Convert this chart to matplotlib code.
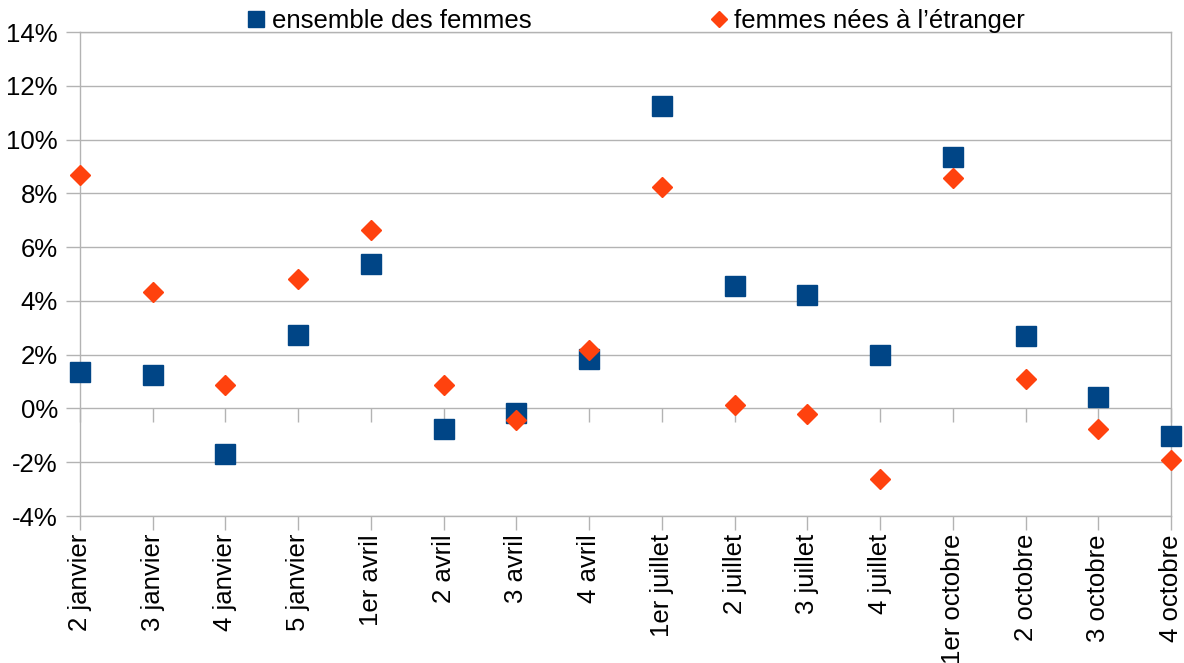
import matplotlib
matplotlib.use("Agg")
import matplotlib.pyplot as plt
from matplotlib.ticker import PercentFormatter

plt.rcParams['font.family'] = ['Liberation Sans', 'DejaVu Sans']
plt.rcParams['axes.unicode_minus'] = False

# data (percent)
categories = ["2 janvier", "3 janvier", "4 janvier", "5 janvier",
              "1er avril", "2 avril", "3 avril", "4 avril",
              "1er juillet", "2 juillet", "3 juillet", "4 juillet",
              "1er octobre", "2 octobre", "3 octobre", "4 octobre"]
ensemble = [1.34, 1.23, -1.68, 2.72, 5.37, -0.78, -0.17, 1.84,
            11.26, 4.56, 4.21, 1.98, 9.36, 2.68, 0.41, -1.01]
etranger = [8.68, 4.32, 0.86, 4.81, 6.63, 0.86, -0.42, 2.18,
            8.25, 0.11, -0.22, -2.61, 8.57, 1.08, -0.78, -1.90]

blue = '#004586'
orange = '#ff420e'
grey = '#b3b3b3'

fig = plt.figure(figsize=(11.84, 6.63), dpi=100)
ax = fig.add_axes([80 / 1184, 147 / 663, 1091 / 1184, 484 / 663])

x = list(range(len(categories)))
ax.plot(x, ensemble, linestyle='none', marker='s', markersize=14,
        color=blue, markeredgecolor=blue, clip_on=False, zorder=3,
        label='ensemble des femmes')
ax.plot(x, etranger, linestyle='none', marker='D', markersize=10.5,
        color=orange, markeredgecolor=orange, clip_on=False, zorder=4,
        label='femmes nées à l’étranger')

ax.set_xlim(0, len(categories) - 1)
ax.set_ylim(-4, 14)
ax.set_yticks(range(-4, 15, 2))
ax.yaxis.set_major_formatter(PercentFormatter(xmax=100, decimals=0))
ax.set_xticks(x)
ax.set_xticklabels(categories, rotation=90, ha='center', va='top')

ax.grid(axis='y', color=grey, linewidth=1)
ax.set_axisbelow(True)
for s in ax.spines.values():
    s.set_color(grey)
    s.set_linewidth(1)
ax.tick_params(axis='both', colors=grey, labelcolor='black', labelsize=18.5,
               length=10, width=1, direction='out')
ax.tick_params(axis='x', pad=3)
ax.tick_params(axis='y', pad=6)

# tick marks along the zero line
sec = ax.secondary_xaxis(4 / 18)
sec.set_xticks(x)
sec.tick_params(axis='x', colors=grey, length=10, width=1, direction='out',
                labelbottom=False, labeltop=False)
sec.spines['bottom'].set_visible(False)

fig.legend(loc='center', bbox_to_anchor=(0.538, 0.968), ncol=2,
           frameon=False, fontsize=18.5, markerscale=0.8,
           handlelength=0.6, handletextpad=0.3, columnspacing=7.0,
           borderpad=0, borderaxespad=0)

fig.savefig('out.png', dpi=100)
